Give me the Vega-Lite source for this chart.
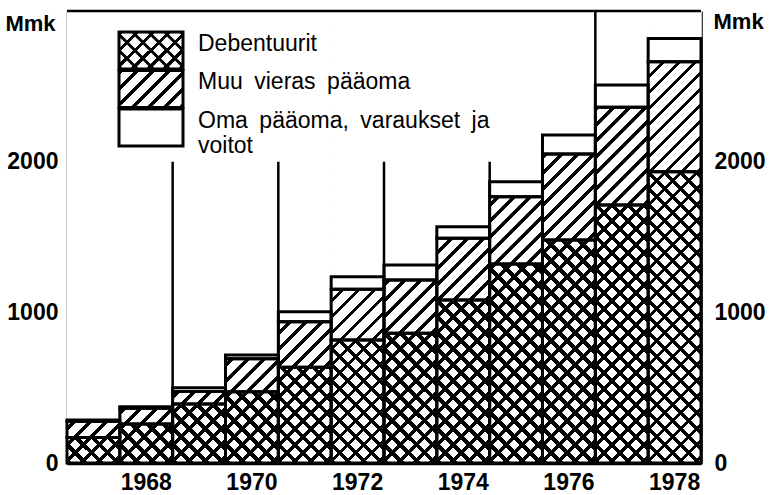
{
  "$schema": "https://vega.github.io/schema/vega-lite/v6.json",
  "width": 634,
  "height": 452,
  "autosize": {"type": "none"},
  "padding": {"left": 67, "top": 11, "right": 68, "bottom": 32},
  "background": "white",
  "datasets": {
    "d": [
      {"year": 1967, "series": "Debentuurit", "value": 170},
      {"year": 1967, "series": "Muu vieras pääoma", "value": 105},
      {"year": 1967, "series": "Oma pääoma, varaukset ja voitot", "value": 10},
      {"year": 1968, "series": "Debentuurit", "value": 259},
      {"year": 1968, "series": "Muu vieras pääoma", "value": 105},
      {"year": 1968, "series": "Oma pääoma, varaukset ja voitot", "value": 10},
      {"year": 1969, "series": "Debentuurit", "value": 392},
      {"year": 1969, "series": "Muu vieras pääoma", "value": 83},
      {"year": 1969, "series": "Oma pääoma, varaukset ja voitot", "value": 25},
      {"year": 1970, "series": "Debentuurit", "value": 473},
      {"year": 1970, "series": "Muu vieras pääoma", "value": 219},
      {"year": 1970, "series": "Oma pääoma, varaukset ja voitot", "value": 25},
      {"year": 1971, "series": "Debentuurit", "value": 635},
      {"year": 1971, "series": "Muu vieras pääoma", "value": 303},
      {"year": 1971, "series": "Oma pääoma, varaukset ja voitot", "value": 66},
      {"year": 1972, "series": "Debentuurit", "value": 816},
      {"year": 1972, "series": "Muu vieras pääoma", "value": 337},
      {"year": 1972, "series": "Oma pääoma, varaukset ja voitot", "value": 84},
      {"year": 1973, "series": "Debentuurit", "value": 861},
      {"year": 1973, "series": "Muu vieras pääoma", "value": 354},
      {"year": 1973, "series": "Oma pääoma, varaukset ja voitot", "value": 99},
      {"year": 1974, "series": "Debentuurit", "value": 1082},
      {"year": 1974, "series": "Muu vieras pääoma", "value": 409},
      {"year": 1974, "series": "Oma pääoma, varaukset ja voitot", "value": 77},
      {"year": 1975, "series": "Debentuurit", "value": 1321},
      {"year": 1975, "series": "Muu vieras pääoma", "value": 446},
      {"year": 1975, "series": "Oma pääoma, varaukset ja voitot", "value": 100},
      {"year": 1976, "series": "Debentuurit", "value": 1480},
      {"year": 1976, "series": "Muu vieras pääoma", "value": 571},
      {"year": 1976, "series": "Oma pääoma, varaukset ja voitot", "value": 126},
      {"year": 1977, "series": "Debentuurit", "value": 1712},
      {"year": 1977, "series": "Muu vieras pääoma", "value": 649},
      {"year": 1977, "series": "Oma pääoma, varaukset ja voitot", "value": 148},
      {"year": 1978, "series": "Debentuurit", "value": 1933},
      {"year": 1978, "series": "Muu vieras pääoma", "value": 730},
      {"year": 1978, "series": "Oma pääoma, varaukset ja voitot", "value": 155}
    ]
  },
  "data": {"name": "d"},
  "transform": [
    {"stack": "value", "groupby": ["year"], "sort": [{"field": "series", "order": "ascending"}], "as": ["lo", "hi"]}
  ],
  "layer": [
    {
      "transform": [{"filter": "datum.series === 'Debentuurit'"}],
      "mark": {"type": "rect", "fill": {"gradient": "linear", "x1": 0, "y1": 1, "x2": 0.130619, "y2": -0.117475, "stops": [
{"offset":0,"color":"#000"},{"offset":0.0108,"color":"#000"},{"offset":0.0108,"color":"#fff"},{"offset":0.03125,"color":"#fff"},
{"offset":0.03125,"color":"#000"},{"offset":0.04205,"color":"#000"},{"offset":0.04205,"color":"#fff"},{"offset":0.0625,"color":"#fff"},
{"offset":0.0625,"color":"#000"},{"offset":0.0733,"color":"#000"},{"offset":0.0733,"color":"#fff"},{"offset":0.09375,"color":"#fff"},
{"offset":0.09375,"color":"#000"},{"offset":0.10455,"color":"#000"},{"offset":0.10455,"color":"#fff"},{"offset":0.125,"color":"#fff"},
{"offset":0.125,"color":"#000"},{"offset":0.1358,"color":"#000"},{"offset":0.1358,"color":"#fff"},{"offset":0.15625,"color":"#fff"},
{"offset":0.15625,"color":"#000"},{"offset":0.16705,"color":"#000"},{"offset":0.16705,"color":"#fff"},{"offset":0.1875,"color":"#fff"},
{"offset":0.1875,"color":"#000"},{"offset":0.1983,"color":"#000"},{"offset":0.1983,"color":"#fff"},{"offset":0.21875,"color":"#fff"},
{"offset":0.21875,"color":"#000"},{"offset":0.22955,"color":"#000"},{"offset":0.22955,"color":"#fff"},{"offset":0.25,"color":"#fff"},
{"offset":0.25,"color":"#000"},{"offset":0.2608,"color":"#000"},{"offset":0.2608,"color":"#fff"},{"offset":0.28125,"color":"#fff"},
{"offset":0.28125,"color":"#000"},{"offset":0.29205,"color":"#000"},{"offset":0.29205,"color":"#fff"},{"offset":0.3125,"color":"#fff"},
{"offset":0.3125,"color":"#000"},{"offset":0.3233,"color":"#000"},{"offset":0.3233,"color":"#fff"},{"offset":0.34375,"color":"#fff"},
{"offset":0.34375,"color":"#000"},{"offset":0.35455,"color":"#000"},{"offset":0.35455,"color":"#fff"},{"offset":0.375,"color":"#fff"},
{"offset":0.375,"color":"#000"},{"offset":0.3858,"color":"#000"},{"offset":0.3858,"color":"#fff"},{"offset":0.40625,"color":"#fff"},
{"offset":0.40625,"color":"#000"},{"offset":0.41705,"color":"#000"},{"offset":0.41705,"color":"#fff"},{"offset":0.4375,"color":"#fff"},
{"offset":0.4375,"color":"#000"},{"offset":0.4483,"color":"#000"},{"offset":0.4483,"color":"#fff"},{"offset":0.46875,"color":"#fff"},
{"offset":0.46875,"color":"#000"},{"offset":0.47955,"color":"#000"},{"offset":0.47955,"color":"#fff"},{"offset":0.5,"color":"#fff"},
{"offset":0.5,"color":"#000"},{"offset":0.5108,"color":"#000"},{"offset":0.5108,"color":"#fff"},{"offset":0.53125,"color":"#fff"},
{"offset":0.53125,"color":"#000"},{"offset":0.54205,"color":"#000"},{"offset":0.54205,"color":"#fff"},{"offset":0.5625,"color":"#fff"},
{"offset":0.5625,"color":"#000"},{"offset":0.5733,"color":"#000"},{"offset":0.5733,"color":"#fff"},{"offset":0.59375,"color":"#fff"},
{"offset":0.59375,"color":"#000"},{"offset":0.60455,"color":"#000"},{"offset":0.60455,"color":"#fff"},{"offset":0.625,"color":"#fff"},
{"offset":0.625,"color":"#000"},{"offset":0.6358,"color":"#000"},{"offset":0.6358,"color":"#fff"},{"offset":0.65625,"color":"#fff"},
{"offset":0.65625,"color":"#000"},{"offset":0.66705,"color":"#000"},{"offset":0.66705,"color":"#fff"},{"offset":0.6875,"color":"#fff"},
{"offset":0.6875,"color":"#000"},{"offset":0.6983,"color":"#000"},{"offset":0.6983,"color":"#fff"},{"offset":0.71875,"color":"#fff"},
{"offset":0.71875,"color":"#000"},{"offset":0.72955,"color":"#000"},{"offset":0.72955,"color":"#fff"},{"offset":0.75,"color":"#fff"},
{"offset":0.75,"color":"#000"},{"offset":0.7608,"color":"#000"},{"offset":0.7608,"color":"#fff"},{"offset":0.78125,"color":"#fff"},
{"offset":0.78125,"color":"#000"},{"offset":0.79205,"color":"#000"},{"offset":0.79205,"color":"#fff"},{"offset":0.8125,"color":"#fff"},
{"offset":0.8125,"color":"#000"},{"offset":0.8233,"color":"#000"},{"offset":0.8233,"color":"#fff"},{"offset":0.84375,"color":"#fff"},
{"offset":0.84375,"color":"#000"},{"offset":0.85455,"color":"#000"},{"offset":0.85455,"color":"#fff"},{"offset":0.875,"color":"#fff"},
{"offset":0.875,"color":"#000"},{"offset":0.8858,"color":"#000"},{"offset":0.8858,"color":"#fff"},{"offset":0.90625,"color":"#fff"},
{"offset":0.90625,"color":"#000"},{"offset":0.91705,"color":"#000"},{"offset":0.91705,"color":"#fff"},{"offset":0.9375,"color":"#fff"},
{"offset":0.9375,"color":"#000"},{"offset":0.9483,"color":"#000"},{"offset":0.9483,"color":"#fff"},{"offset":0.96875,"color":"#fff"},
{"offset":0.96875,"color":"#000"},{"offset":0.97955,"color":"#000"},{"offset":0.97955,"color":"#fff"},{"offset":1,"color":"#fff"}
      ]}},
      "encoding": {
        "x": {"field": "year", "type": "ordinal", "title": null, "scale": {"paddingInner": 0, "paddingOuter": 0}},
        "y": {"datum": 0, "type": "quantitative", "scale": {"domain": [0, 3000], "nice": false}, "axis": null},
        "y2": {"datum": 3000}
      }
    },
    {
      "transform": [{"filter": "datum.series === 'Debentuurit'"}],
      "mark": {"type": "rect", "fill": "white", "stroke": "white", "strokeWidth": 1},
      "encoding": {
        "x": {"field": "year", "type": "ordinal", "title": null},
        "y": {"field": "hi", "type": "quantitative", "axis": null},
        "y2": {"datum": 3000}
      }
    },
    {
      "transform": [{"filter": "datum.series === 'Debentuurit'"}],
      "mark": {"type": "rect", "fill": {"gradient": "linear", "x1": 0, "y1": 0, "x2": 0.130619, "y2": 1.117475, "stops": [
{"offset":0,"color":"#000"},{"offset":0.0092,"color":"#000"},{"offset":0.0092,"color":"rgba(0,0,0,0)"},{"offset":0.03125,"color":"rgba(0,0,0,0)"},
{"offset":0.03125,"color":"#000"},{"offset":0.04045,"color":"#000"},{"offset":0.04045,"color":"rgba(0,0,0,0)"},{"offset":0.0625,"color":"rgba(0,0,0,0)"},
{"offset":0.0625,"color":"#000"},{"offset":0.0717,"color":"#000"},{"offset":0.0717,"color":"rgba(0,0,0,0)"},{"offset":0.09375,"color":"rgba(0,0,0,0)"},
{"offset":0.09375,"color":"#000"},{"offset":0.10295,"color":"#000"},{"offset":0.10295,"color":"rgba(0,0,0,0)"},{"offset":0.125,"color":"rgba(0,0,0,0)"},
{"offset":0.125,"color":"#000"},{"offset":0.1342,"color":"#000"},{"offset":0.1342,"color":"rgba(0,0,0,0)"},{"offset":0.15625,"color":"rgba(0,0,0,0)"},
{"offset":0.15625,"color":"#000"},{"offset":0.16545,"color":"#000"},{"offset":0.16545,"color":"rgba(0,0,0,0)"},{"offset":0.1875,"color":"rgba(0,0,0,0)"},
{"offset":0.1875,"color":"#000"},{"offset":0.1967,"color":"#000"},{"offset":0.1967,"color":"rgba(0,0,0,0)"},{"offset":0.21875,"color":"rgba(0,0,0,0)"},
{"offset":0.21875,"color":"#000"},{"offset":0.22795,"color":"#000"},{"offset":0.22795,"color":"rgba(0,0,0,0)"},{"offset":0.25,"color":"rgba(0,0,0,0)"},
{"offset":0.25,"color":"#000"},{"offset":0.2592,"color":"#000"},{"offset":0.2592,"color":"rgba(0,0,0,0)"},{"offset":0.28125,"color":"rgba(0,0,0,0)"},
{"offset":0.28125,"color":"#000"},{"offset":0.29045,"color":"#000"},{"offset":0.29045,"color":"rgba(0,0,0,0)"},{"offset":0.3125,"color":"rgba(0,0,0,0)"},
{"offset":0.3125,"color":"#000"},{"offset":0.3217,"color":"#000"},{"offset":0.3217,"color":"rgba(0,0,0,0)"},{"offset":0.34375,"color":"rgba(0,0,0,0)"},
{"offset":0.34375,"color":"#000"},{"offset":0.35295,"color":"#000"},{"offset":0.35295,"color":"rgba(0,0,0,0)"},{"offset":0.375,"color":"rgba(0,0,0,0)"},
{"offset":0.375,"color":"#000"},{"offset":0.3842,"color":"#000"},{"offset":0.3842,"color":"rgba(0,0,0,0)"},{"offset":0.40625,"color":"rgba(0,0,0,0)"},
{"offset":0.40625,"color":"#000"},{"offset":0.41545,"color":"#000"},{"offset":0.41545,"color":"rgba(0,0,0,0)"},{"offset":0.4375,"color":"rgba(0,0,0,0)"},
{"offset":0.4375,"color":"#000"},{"offset":0.4467,"color":"#000"},{"offset":0.4467,"color":"rgba(0,0,0,0)"},{"offset":0.46875,"color":"rgba(0,0,0,0)"},
{"offset":0.46875,"color":"#000"},{"offset":0.47795,"color":"#000"},{"offset":0.47795,"color":"rgba(0,0,0,0)"},{"offset":0.5,"color":"rgba(0,0,0,0)"},
{"offset":0.5,"color":"#000"},{"offset":0.5092,"color":"#000"},{"offset":0.5092,"color":"rgba(0,0,0,0)"},{"offset":0.53125,"color":"rgba(0,0,0,0)"},
{"offset":0.53125,"color":"#000"},{"offset":0.54045,"color":"#000"},{"offset":0.54045,"color":"rgba(0,0,0,0)"},{"offset":0.5625,"color":"rgba(0,0,0,0)"},
{"offset":0.5625,"color":"#000"},{"offset":0.5717,"color":"#000"},{"offset":0.5717,"color":"rgba(0,0,0,0)"},{"offset":0.59375,"color":"rgba(0,0,0,0)"},
{"offset":0.59375,"color":"#000"},{"offset":0.60295,"color":"#000"},{"offset":0.60295,"color":"rgba(0,0,0,0)"},{"offset":0.625,"color":"rgba(0,0,0,0)"},
{"offset":0.625,"color":"#000"},{"offset":0.6342,"color":"#000"},{"offset":0.6342,"color":"rgba(0,0,0,0)"},{"offset":0.65625,"color":"rgba(0,0,0,0)"},
{"offset":0.65625,"color":"#000"},{"offset":0.66545,"color":"#000"},{"offset":0.66545,"color":"rgba(0,0,0,0)"},{"offset":0.6875,"color":"rgba(0,0,0,0)"},
{"offset":0.6875,"color":"#000"},{"offset":0.6967,"color":"#000"},{"offset":0.6967,"color":"rgba(0,0,0,0)"},{"offset":0.71875,"color":"rgba(0,0,0,0)"},
{"offset":0.71875,"color":"#000"},{"offset":0.72795,"color":"#000"},{"offset":0.72795,"color":"rgba(0,0,0,0)"},{"offset":0.75,"color":"rgba(0,0,0,0)"},
{"offset":0.75,"color":"#000"},{"offset":0.7592,"color":"#000"},{"offset":0.7592,"color":"rgba(0,0,0,0)"},{"offset":0.78125,"color":"rgba(0,0,0,0)"},
{"offset":0.78125,"color":"#000"},{"offset":0.79045,"color":"#000"},{"offset":0.79045,"color":"rgba(0,0,0,0)"},{"offset":0.8125,"color":"rgba(0,0,0,0)"},
{"offset":0.8125,"color":"#000"},{"offset":0.8217,"color":"#000"},{"offset":0.8217,"color":"rgba(0,0,0,0)"},{"offset":0.84375,"color":"rgba(0,0,0,0)"},
{"offset":0.84375,"color":"#000"},{"offset":0.85295,"color":"#000"},{"offset":0.85295,"color":"rgba(0,0,0,0)"},{"offset":0.875,"color":"rgba(0,0,0,0)"},
{"offset":0.875,"color":"#000"},{"offset":0.8842,"color":"#000"},{"offset":0.8842,"color":"rgba(0,0,0,0)"},{"offset":0.90625,"color":"rgba(0,0,0,0)"},
{"offset":0.90625,"color":"#000"},{"offset":0.91545,"color":"#000"},{"offset":0.91545,"color":"rgba(0,0,0,0)"},{"offset":0.9375,"color":"rgba(0,0,0,0)"},
{"offset":0.9375,"color":"#000"},{"offset":0.9467,"color":"#000"},{"offset":0.9467,"color":"rgba(0,0,0,0)"},{"offset":0.96875,"color":"rgba(0,0,0,0)"},
{"offset":0.96875,"color":"#000"},{"offset":0.97795,"color":"#000"},{"offset":0.97795,"color":"rgba(0,0,0,0)"},{"offset":1,"color":"rgba(0,0,0,0)"}
      ]}},
      "encoding": {
        "x": {"field": "year", "type": "ordinal", "title": null},
        "y": {"datum": 0, "type": "quantitative", "axis": null},
        "y2": {"datum": 3000}
      }
    },
    {
      "transform": [{"filter": "datum.series === 'Muu vieras pääoma'"}],
      "mark": {"type": "rect", "fill": "white", "stroke": "white", "strokeWidth": 1},
      "encoding": {
        "x": {"field": "year", "type": "ordinal", "title": null},
        "y": {"field": "hi", "type": "quantitative", "axis": null},
        "y2": {"datum": 3000}
      }
    },
    {
      "mark": {"type": "rect", "fillOpacity": 0, "stroke": "black", "strokeWidth": 3},
      "encoding": {
        "x": {"field": "year", "type": "ordinal", "title": null, "axis": {"values": [1968, 1970, 1972, 1974, 1976, 1978]}},
        "y": {"field": "lo", "type": "quantitative", "scale": {"domain": [0, 3000], "nice": false},
          "axis": {"orient": "left", "values": [0, 1000, 2000], "format": "d", "grid": true, "gridColor": "black", "gridWidth": 2, "gridOpacity": 1,
            "labelPadding": 9, "title": "Mmk", "titleAngle": 0, "titleAlign": "right", "titleBaseline": "middle", "titleX": -12, "titleY": 12}},
        "y2": {"field": "hi"}
      }
    },
    {
      "transform": [{"filter": "false"}],
      "mark": {"type": "point", "filled": true, "opacity": 1, "strokeWidth": 3},
      "encoding": {
        "shape": {"field": "series", "type": "nominal",
          "scale": {"domain": ["Debentuurit", "Muu vieras pääoma", "Oma pääoma, varaukset ja voitot"],
            "range": [
              "M-2.4615,-1.4231H2.4615V1.4231H-2.4615ZM-2.4615,1.2308L-2.2692,1.4231M-2.4615,0L-1.0385,1.4231M-2.4615,-1.2308L0.1923,1.4231M-1.4231,-1.4231L1.4231,1.4231M-0.1923,-1.4231L2.4615,1.2308M1.0385,-1.4231L2.4615,0M2.2692,-1.4231L2.4615,-1.2308",
              "M-2.4615,-1.4231H2.4615V1.4231H-2.4615Z",
              "M-2.4615,-1.4231H2.4615V1.4231H-2.4615Z"
            ]},
          "legend": {
            "orient": "none", "legendX": 52, "legendY": 25, "title": null, "padding": 0,
            "gridAlign": "none", "rowPadding": -12.5,
            "symbolSize": 676, "symbolOffset": 17.5,
            "symbolStrokeColor": "black", "symbolStrokeWidth": 3, "symbolOpacity": 1,
            "labelOffset": 32.5, "labelFont": "Liberation Sans", "labelFontSize": 23, "labelFontWeight": "normal", "labelColor": "black", "labelLimit": 400, "labelBaseline": "alphabetic",
            "labelExpr": "datum.value === 'Oma pääoma, varaukset ja voitot' ? ['Oma\u2002pääoma,\u2002varaukset\u2002ja', 'voitot'] : datum.value === 'Muu vieras pääoma' ? 'Muu\u2002vieras\u2002pääoma' : datum.label"
          }
        },
        "stroke": {"field": "series", "type": "nominal",
          "scale": {"domain": ["Debentuurit", "Muu vieras pääoma", "Oma pääoma, varaukset ja voitot"], "range": ["#000000", "#000000", "#000000"]},
          "legend": {
            "orient": "none", "legendX": 52, "legendY": 25, "title": null, "padding": 0,
            "gridAlign": "none", "rowPadding": -12.5,
            "symbolSize": 676, "symbolOffset": 17.5,
            "symbolStrokeColor": "black", "symbolStrokeWidth": 3, "symbolOpacity": 1,
            "labelOffset": 32.5, "labelFont": "Liberation Sans", "labelFontSize": 23, "labelFontWeight": "normal", "labelColor": "black", "labelLimit": 400, "labelBaseline": "alphabetic",
            "labelExpr": "datum.value === 'Oma pääoma, varaukset ja voitot' ? ['Oma\u2002pääoma,\u2002varaukset\u2002ja', 'voitot'] : datum.value === 'Muu vieras pääoma' ? 'Muu\u2002vieras\u2002pääoma' : datum.label"
          }
        },
        "fill": {"field": "series", "type": "nominal",
          "scale": {"domain": ["Debentuurit", "Muu vieras pääoma", "Oma pääoma, varaukset ja voitot"],
            "range": [
              {"expr": "{gradient:'linear',x1:0,y1:0,x2:1.3116,y2:0.7583,stops:[{offset:0,color:'#000'},{offset:0.042,color:'#000'},{offset:0.042,color:'#fff'},{offset:0.142857,color:'#fff'},{offset:0.142857,color:'#000'},{offset:0.184857,color:'#000'},{offset:0.184857,color:'#fff'},{offset:0.285714,color:'#fff'},{offset:0.285714,color:'#000'},{offset:0.327714,color:'#000'},{offset:0.327714,color:'#fff'},{offset:0.428571,color:'#fff'},{offset:0.428571,color:'#000'},{offset:0.470571,color:'#000'},{offset:0.470571,color:'#fff'},{offset:0.571429,color:'#fff'},{offset:0.571429,color:'#000'},{offset:0.613429,color:'#000'},{offset:0.613429,color:'#fff'},{offset:0.714286,color:'#fff'},{offset:0.714286,color:'#000'},{offset:0.756286,color:'#000'},{offset:0.756286,color:'#fff'},{offset:0.857143,color:'#fff'},{offset:0.857143,color:'#000'},{offset:0.899143,color:'#000'},{offset:0.899143,color:'#fff'},{offset:1,color:'#fff'}]}"},
              {"expr": "{gradient:'linear',x1:0,y1:0,x2:1.3116,y2:0.7583,stops:[{offset:0,color:'#000'},{offset:0.042,color:'#000'},{offset:0.042,color:'#fff'},{offset:0.142857,color:'#fff'},{offset:0.142857,color:'#000'},{offset:0.184857,color:'#000'},{offset:0.184857,color:'#fff'},{offset:0.285714,color:'#fff'},{offset:0.285714,color:'#000'},{offset:0.327714,color:'#000'},{offset:0.327714,color:'#fff'},{offset:0.428571,color:'#fff'},{offset:0.428571,color:'#000'},{offset:0.470571,color:'#000'},{offset:0.470571,color:'#fff'},{offset:0.571429,color:'#fff'},{offset:0.571429,color:'#000'},{offset:0.613429,color:'#000'},{offset:0.613429,color:'#fff'},{offset:0.714286,color:'#fff'},{offset:0.714286,color:'#000'},{offset:0.756286,color:'#000'},{offset:0.756286,color:'#fff'},{offset:0.857143,color:'#fff'},{offset:0.857143,color:'#000'},{offset:0.899143,color:'#000'},{offset:0.899143,color:'#fff'},{offset:1,color:'#fff'}]}"},
              "#ffffff"
            ]},
          "legend": {
            "orient": "none", "legendX": 52, "legendY": 25, "title": null, "padding": 0,
            "gridAlign": "none", "rowPadding": -12.5,
            "symbolSize": 676, "symbolOffset": 17.5,
            "symbolStrokeColor": "black", "symbolStrokeWidth": 3, "symbolOpacity": 1,
            "labelOffset": 32.5, "labelFont": "Liberation Sans", "labelFontSize": 23, "labelFontWeight": "normal", "labelColor": "black", "labelLimit": 400, "labelBaseline": "alphabetic",
            "labelExpr": "datum.value === 'Oma pääoma, varaukset ja voitot' ? ['Oma\u2002pääoma,\u2002varaukset\u2002ja', 'voitot'] : datum.value === 'Muu vieras pääoma' ? 'Muu\u2002vieras\u2002pääoma' : datum.label"
          }
        }
      }
    },
    {
      "transform": [{"filter": "datum.series === 'Debentuurit'"}, {"filter": {"field": "year", "oneOf": [1969, 1971, 1973, 1975]}}],
      "mark": {"type": "rule", "color": "black", "strokeWidth": 2.5},
      "encoding": {
        "x": {"field": "year", "type": "ordinal", "title": null, "bandPosition": 0},
        "y": {"datum": 0, "type": "quantitative", "axis": null},
        "y2": {"datum": 2000}
      }
    },
    {
      "transform": [{"filter": "datum.series === 'Debentuurit'"}, {"filter": {"field": "year", "oneOf": [1977]}}],
      "mark": {"type": "rule", "color": "black", "strokeWidth": 2.5},
      "encoding": {
        "x": {"field": "year", "type": "ordinal", "title": null, "bandPosition": 0},
        "y": {"datum": 0, "type": "quantitative", "axis": null},
        "y2": {"datum": 3000}
      }
    },
    {
      "transform": [{"filter": "datum.series === 'Debentuurit'"}, {"filter": {"field": "year", "oneOf": [1967]}}],
      "mark": {"type": "rule", "color": "black", "strokeWidth": 2.5},
      "encoding": {
        "y": {"datum": 3000, "type": "quantitative",
          "axis": {"orient": "right", "values": [0, 1000, 2000], "format": "d", "grid": false, "labelPadding": 13,
            "title": "Mmk", "titleAngle": 0, "titleAlign": "left", "titleBaseline": "middle", "titleX": 12, "titleY": 10}}
      }
    }
  ],
  "resolve": {"axis": {"y": "independent"}},
  "config": {
    "view": {"stroke": null},
    "font": "Liberation Sans",
    "point": {"strokeWidth": 3},
    "axis": {
      "labelFont": "Liberation Sans", "labelFontSize": 23, "labelFontWeight": "bold", "labelColor": "black",
      "ticks": false, "tickSize": 0, "domain": true, "domainColor": "black",
      "titleFont": "Liberation Sans", "titleFontSize": 22, "titleFontWeight": "bold", "titleColor": "black",
      "zindex": 1
    },
    "axisX": {"labelPadding": 8, "labelAngle": 0, "domainWidth": 3.5, "grid": false},
    "axisY": {"domainWidth": 2.5}
  }
}
